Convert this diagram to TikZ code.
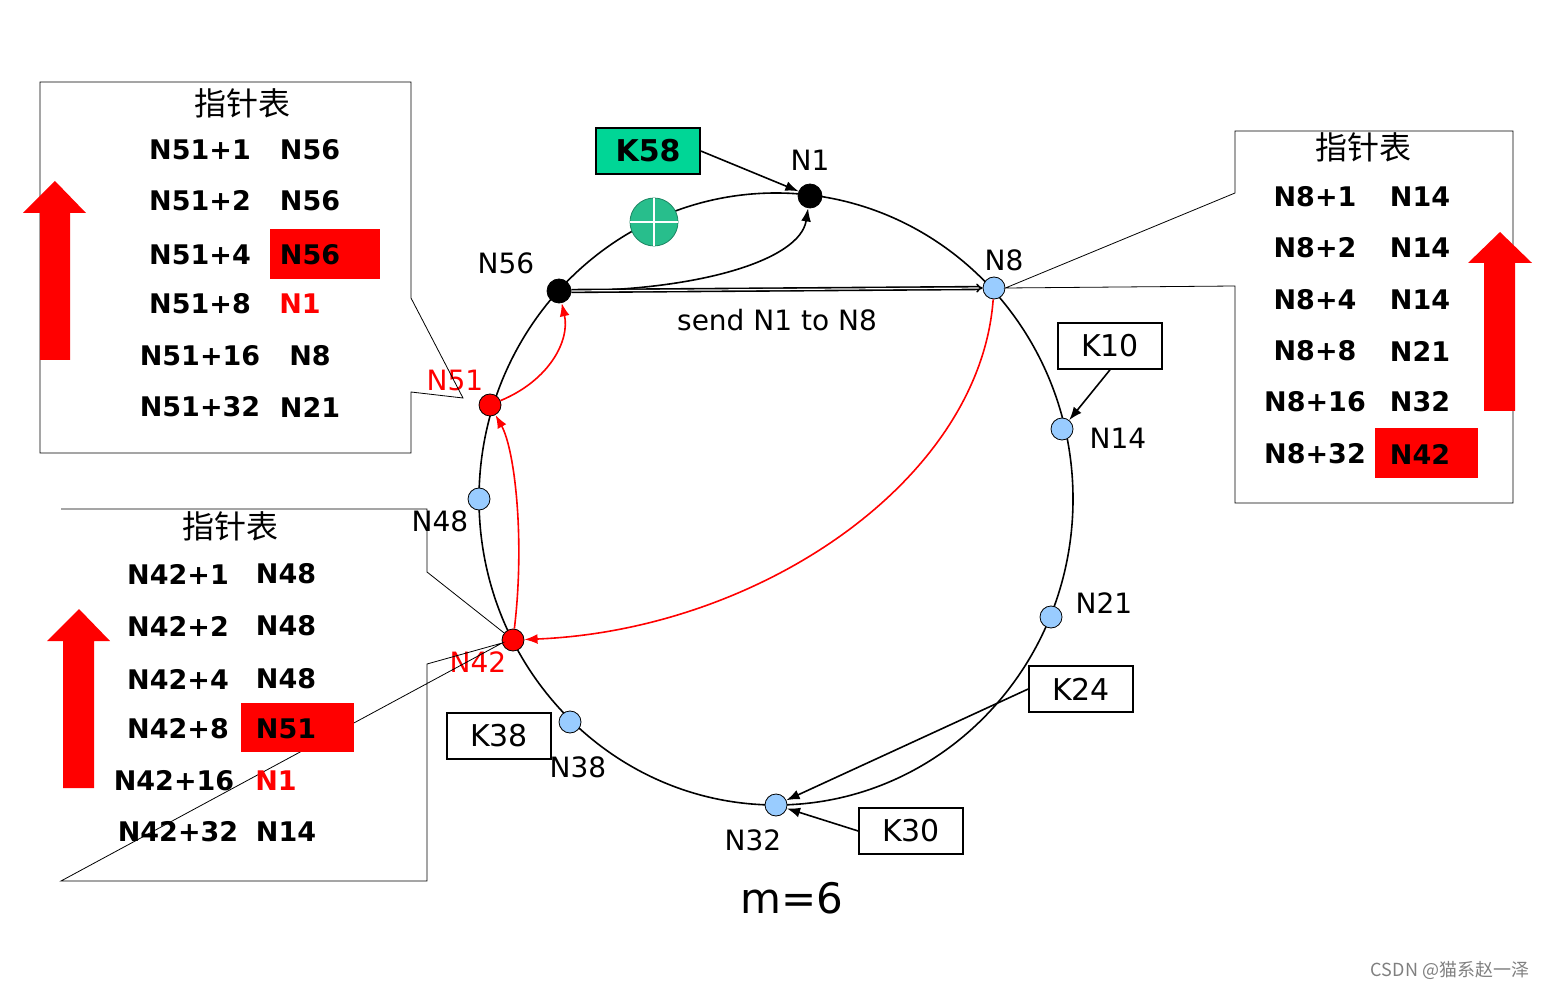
\documentclass[tikz,border=0pt]{standalone}
\usepackage{fontspec}
\setmainfont{DejaVu Sans}
\newfontfamily\cjk{Noto Sans CJK SC}
\usetikzlibrary{arrows.meta}
\definecolor{ptblue}{RGB}{153,204,255}
\definecolor{kgreen}{RGB}{0,214,150}
\definecolor{pgreen}{RGB}{40,190,140}
\tikzstyle{peer}=[circle, draw, fill=ptblue, minimum size=11pt, inner sep=0pt]
\tikzstyle{hot}=[circle, draw, fill=red, minimum size=11pt, inner sep=0pt]
\tikzstyle{dark}=[circle, draw, fill=black, minimum size=12pt, inner sep=0pt]
\tikzstyle{lbl}=[font=\fontsize{14}{16}\selectfont]
\tikzstyle{cell}=[font=\bfseries\fontsize{13.5}{16}\selectfont]
\tikzstyle{key}=[draw, thick, minimum width=52pt, minimum height=23pt, font=\fontsize{15}{17}\selectfont]
\tikzstyle{arrow}=[thick, -Latex]
\tikzstyle{redarrow}=[thick, red, -Latex]
\tikzstyle{uparrow}=[fill=red]
\begin{document}
\begin{tikzpicture}[x=0.5pt, y=-0.5pt]
      \useasboundingbox (0,0) rectangle (1551,988);
      % ring
      \draw[thick] (776,499) ellipse [x radius=297, y radius=306];
      \node[dark] (n1) at (810,196) {};
      \node[peer] (n8) at (994,288) {};
      \node[peer] (n14) at (1062,429) {};
      \node[peer] (n21) at (1051,617) {};
      \node[peer] (n32) at (776,805) {};
      \node[peer] (n38) at (570,722) {};
      \node[hot] (n42) at (513,640) {};
      \node[peer] (n48) at (479,499) {};
      \node[hot] (n51) at (490,405) {};
      \node[dark] (n56) at (559,291) {};
      % labels
      \node[lbl] at (810,160) {N1};
      \node[lbl] at (1004,260) {N8};
      \node[lbl] at (1118,438) {N14};
      \node[lbl] at (1104,603) {N21};
      \node[lbl] at (753,840) {N32};
      \node[lbl] at (578,767) {N38};
      \node[lbl, red] at (478,662) {N42};
      \node[lbl] at (440,521) {N48};
      \node[lbl, red] at (455,380) {N51};
      \node[lbl] at (506,263) {N56};
      \node[font=\fontsize{21}{24}\selectfont] at (792,898) {m=6};
      % keys
      \node[key, fill=kgreen, font=\bfseries\fontsize{15}{17}\selectfont] (k58) at (648,151) {K58};
      \node[key] (k10) at (1110,346) {K10};
      \node[key] (k24) at (1081,689) {K24};
      \node[key] (k30) at (911,831) {K30};
      \node[key] (k38) at (499,736) {K38};
      \draw[arrow] (k58.east) -- (n1);
      \draw[arrow] (k10.south) -- (n14);
      \draw[arrow] (k24.west) -- (n32);
      \draw[arrow] (k30.west) -- (n32);
      \node[circle, draw=pgreen!70!black, fill=pgreen, minimum size=24pt] (join) at (654,222) {};
      \draw[white, very thick] (join.north) -- (join.south) (join.west) -- (join.east);
      % lookup path
      \draw[arrow] (n56) .. controls (700,290) and (800,260) .. (n1);
      \draw[double, thick, -{Implies}] (n56.east) -- (n8.west)
        node[midway, below=6pt, lbl] {send N1 to N8};
      \draw[redarrow] (n8) .. controls (980,480) and (760,630) .. (n42);
      \draw[redarrow] (n42) .. controls (525,540) and (515,450) .. (n51);
      \draw[redarrow] (n51) .. controls (550,380) and (570,340) .. (n56);
      % finger tables
      \draw (40,82) -- (411,82) -- (411,298) -- (463,398) -- (411,392) -- (411,453) -- (40,453) -- cycle;
      \draw (1235,131) -- (1513,131) -- (1513,503) -- (1235,503) -- (1235,286) -- (n8.east) -- (1235,193) -- cycle;
      \draw (61,509) -- (427,509) -- (427,572) -- (n42) -- (427,664) -- (427,881) -- (61,881) -- cycle;
      \fill[red] (270,229) rectangle (380,279);
      \fill[red] (1375,428) rectangle (1478,478);
      \fill[red] (241,703) rectangle (354,752);
      \node[lbl, font=\cjk\fontsize{16}{18}\selectfont] at (242,103) {指针表};
      \node[lbl, font=\cjk\fontsize{16}{18}\selectfont] at (1363,147) {指针表};
      \node[lbl, font=\cjk\fontsize{16}{18}\selectfont] at (230,526) {指针表};
      \foreach \a/\b/\y in {N51+1/N56/150, N51+2/N56/201, N51+4/N56/255, N51+16/N8/356, N51+32/N21/407}
        \node[cell] at (200,\y) {\a} node[cell] at (310,\y) {\b};
      \node[cell] at (200,304) {N51+8};
      \node[cell, red] at (300,304) {N1};
      \foreach \a/\b/\y in {N8+1/N14/197, N8+2/N14/248, N8+4/N14/300, N8+8/N21/351, N8+16/N32/402, N8+32/N42/454}
        \node[cell] at (1315,\y) {\a} node[cell] at (1420,\y) {\b};
      \foreach \a/\b/\y in {N42+1/N48/574, N42+2/N48/626, N42+4/N48/679, N42+8/N51/729, N42+32/N14/832}
        \node[cell] at (178,\y) {\a} node[cell] at (286,\y) {\b};
      \node[cell] at (174,781) {N42+16};
      \node[cell, red] at (276,781) {N1};
      % red up arrows
      \fill[uparrow] (40,360) -- (40,213) -- (23,213) -- (55,181) -- (86,213) -- (70,213) -- (70,360) -- cycle;
      \fill[uparrow] (1484,411) -- (1484,263) -- (1468,263) -- (1500,232) -- (1532,263) -- (1515,263) -- (1515,411) -- cycle;
      \fill[uparrow] (63,788) -- (63,641) -- (47,641) -- (79,609) -- (110,641) -- (94,641) -- (94,788) -- cycle;
      \node[gray, font=\cjk\fontsize{9}{11}\selectfont] at (1450,970) {CSDN @猫系赵一泽};
    \end{tikzpicture}
\end{document}
